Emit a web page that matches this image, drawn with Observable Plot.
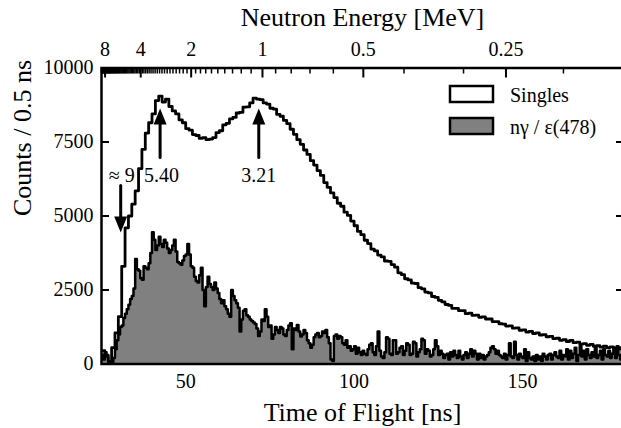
<!DOCTYPE html>
<html><head><meta charset="utf-8">
<script src="https://cdn.jsdelivr.net/npm/d3@7"></script>
<script src="https://cdn.jsdelivr.net/npm/@observablehq/plot@0.6"></script>
<style>body{margin:0;background:#fff} #chart{width:621px;height:428px;overflow:hidden}</style>
</head><body><div id="chart"></div>
<script>
// ---- data ----
const singlesStart = 25;   // ns, first bin edge
const singlesBin = 1;      // ns
const singles = [
  450,300,80,550,1050,1600,3300,4600,5000,5400,        // 25-34
  5850,6600,7250,7800,8150,8450,8900,9050,8850,8950,   // 35-44
  8700,8550,8450,8250,8150,7950,7900,7750,7720,7620,   // 45-54
  7650,7580,7600,7650,7820,7880,8080,8130,8280,8330,   // 55-64
  8480,8500,8680,8690,8820,8980,8950,8930,8820,8780,   // 65-74
  8640,8610,8430,8370,8230,8120,7930,7760,7580,7420,   // 75-84
  7230,7080,6870,6720,6530,6370,6130,5970,5780,5620,   // 85-94
  5430,5330,5130,5020,4830,4670,4480,4370,4180,4070,   // 95-104
  3880,3820,3680,3620,3480,3470,3360,3270,3080,3020,   // 105-114
  2880,2840,2730,2720,2580,2540,2430,2400,2280,2250,   // 115-124
  2150,2100,2010,1980,1880,1880,1800,1800,1700,1720,   // 125-134
  1640,1650,1580,1590,1520,1520,1430,1430,1360,1350,   // 135-144
  1280,1290,1210,1220,1140,1150,1080,1100,1030,1050,   // 145-154
  980,990,920,930,860,870,800,820,760,800,             // 155-164
  720,740,670,690,630,660,600,620,570,600,             // 165-174
  550,580,520,550,500                                  // 175-179
];
const ngStart = 25;   // ns
const ngBin = 0.5;    // ns
const ngamma = [
  300,150,400,250,100,0,50,200,500,800,
  1000,1250,1300,1550,1700,1850,2000,2200,2300,2550,
  3550,3200,3150,2900,2850,3300,3250,3200,3400,3750,
  4450,4200,3850,4000,4300,4050,3950,4200,4100,3900,
  3750,3850,4000,4200,3800,3450,3400,3350,3500,3650,
  3700,4050,3700,3300,3250,2950,2800,2750,3000,3250,
  2500,1950,2600,2950,2700,2600,2500,2750,2550,2400,
  2200,2050,2150,1950,1850,1700,1600,2500,2300,2150,
  2050,1900,1100,1500,1800,1850,1650,1600,1500,1450,
  1400,1350,1200,950,1100,1500,1450,1850,1600,1250,
  1300,850,1000,1250,1150,1050,1250,1200,1000,950,
  1150,1300,1380,500,1200,1150,1320,1100,930,1000,
  1150,1050,800,700,550,650,900,1000,1050,900,
  950,1100,1050,1150,900,700,150,100,950,1000,
  850,950,900,700,650,800,550,600,450,500,
  600,350,550,400,300,450,350,300,500,650,
  700,400,300,600,1100,450,250,200,400,900,
  850,350,300,800,800,350,400,550,600,300,
  450,700,650,300,350,750,700,250,400,500,
  850,800,350,500,450,250,300,500,800,600,
  300,450,350,200,300,350,150,400,250,450,
  300,200,450,250,150,300,400,200,350,500,
  250,450,350,150,350,200,300,150,250,300,
  400,550,600,500,350,450,300,250,200,350,
  150,300,700,250,200,750,300,150,350,250,
  200,500,100,400,200,150,250,100,300,150,
  250,100,350,250,150,300,350,150,300,400,
  250,200,450,150,300,250,500,150,450,200,
  350,550,100,300,600,250,450,150,500,300,
  200,400,250,550,200,300,450,150,500,300,
  250,450,200,350,550,200,600,300,150,450
];
const seriesNames = ["Singles", "nγ / ε(478)"];
const seriesFills = ["#ffffff", "#808080"];
const xDomain = [25, 180];
const yDomain = [0, 10000];
const yTicks = [0, 2500, 5000, 7500, 10000];
const xTicks = [50, 100, 150];
const energyMajor = [8, 4, 2, 1, 0.5, 0.25];
const energyMajorLabels = ["8", "4", "2", "1", "0.5", "0.25"];
const energyMinorStep = 0.1, energyMinorMin = 0.2, energyMinorMax = 8.7;
const flightPath = 1.0;   // m : ToF[ns] = 72.3 * L / sqrt(E[MeV]) + offset
const tofOffset = 0.5;
const arrowT = [30.7, 42.4, 71.7];
const arrowFrom = [6030, 6980, 6980];
const arrowTo = [4440, 8630, 8630];
const arrowLabelT = [31.0, 42.8, 71.7];
const arrowLabelV = [6370, 6370, 6370];
const arrowLabels = ["≈ 9", "5.40", "3.21"];

// ---- derived tables ----
const tof = E => 72.3 * flightPath / Math.sqrt(E) + tofOffset;
const sBins = singles.map((v, i) => ({t: singlesStart + i * singlesBin, v}));
const sLine = [...sBins, {t: singlesStart + singles.length * singlesBin, v: singles[singles.length - 1]}];
const gBins = ngamma.map((v, i) => ({t: ngStart + i * ngBin, v}));
const gLine = [...gBins, {t: ngStart + ngamma.length * ngBin, v: ngamma[ngamma.length - 1]}];
const majorT = energyMajor.map(tof);
const labelMap = new Map(majorT.map((t, i) => [t, energyMajorLabels[i]]));
const minorE = d3.range(Math.round((energyMinorMax - energyMinorMin) / energyMinorStep) + 1)
  .map(i => +(energyMinorMin + i * energyMinorStep).toFixed(1))
  .filter(e => !energyMajor.includes(e));
const minorT = minorE.map(tof).filter(t => t >= xDomain[0] && t <= xDomain[1]);
const arrowIdx = arrowT.map((_, i) => i);
const upIdx = arrowIdx.filter(i => arrowTo[i] > arrowFrom[i]);
const downIdx = arrowIdx.filter(i => arrowTo[i] < arrowFrom[i]);

const upHead = {draw(ctx) { ctx.moveTo(0, 0); ctx.lineTo(6.5, 16); ctx.lineTo(-6.5, 16); ctx.closePath(); }};
const downHead = {draw(ctx) { ctx.moveTo(0, 0); ctx.lineTo(6.5, -16); ctx.lineTo(-6.5, -16); ctx.closePath(); }};

const font = "'Liberation Serif', 'DejaVu Serif', serif";

const chart = Plot.plot({
  width: 621, height: 428,
  marginLeft: 101, marginRight: -2, marginTop: 67.5, marginBottom: 64.5,
  style: {fontFamily: font, fontSize: "20px", color: "black", background: "white"},
  x: {domain: xDomain},
  y: {domain: yDomain},
  marks: [
    Plot.areaY(gLine, {x: "t", y: "v", curve: "step-after", fill: seriesFills[1], clip: true}),
    Plot.line(gLine, {x: "t", y: "v", curve: "step-after", stroke: "black", strokeWidth: 2.5, clip: true}),
    Plot.line(sLine, {x: "t", y: "v", curve: "step-after", stroke: "black", strokeWidth: 2.8, clip: true}),
    Plot.axisY(yTicks, {anchor: "left", tickSize: -8, tickPadding: 16, strokeWidth: 2, label: null,
      tickFormat: d => String(d), fontSize: 20, fontFamily: font}),
    Plot.axisY(yTicks, {anchor: "right", tickSize: -8, tickFormat: () => "", strokeWidth: 2, label: null}),
    Plot.axisX(xTicks, {anchor: "bottom", tickSize: 0, tickPadding: 10, label: null,
      tickFormat: d => String(d), fontSize: 20, fontFamily: font}),
    Plot.axisX(majorT, {anchor: "top", tickSize: -9, tickPadding: 21, tickFormat: d => labelMap.get(d),
      strokeWidth: 2, label: null, fontSize: 20, fontFamily: font}),
    Plot.axisX(minorT, {anchor: "top", tickSize: -5, tickFormat: () => "", strokeWidth: 1.5, label: null}),
    Plot.frame({stroke: "black", strokeWidth: 2.5}),
    Plot.arrow(arrowIdx, {x1: i => arrowT[i], x2: i => arrowT[i], y1: i => arrowFrom[i], y2: i => arrowTo[i],
      stroke: "black", strokeWidth: 3, headLength: 0, insetEnd: 10}),
    Plot.dot(upIdx, {x: i => arrowT[i], y: i => arrowTo[i], symbol: upHead, fill: "black", stroke: "none", r: 6}),
    Plot.dot(downIdx, {x: i => arrowT[i], y: i => arrowTo[i], symbol: downHead, fill: "black", stroke: "none", r: 6}),
    Plot.text(arrowIdx, {x: i => arrowLabelT[i], y: i => arrowLabelV[i], text: i => arrowLabels[i],
      fontSize: 20, fontFamily: font, fill: "black"}),
    Plot.text(["Neutron Energy [MeV]"], {text: d => d, frameAnchor: "top", dy: -50.5, fontSize: 26, fontFamily: font, lineAnchor: "middle"}),
    Plot.text(["Time of Flight [ns]"], {text: d => d, frameAnchor: "bottom", dy: 48.5, fontSize: 26, fontFamily: font, lineAnchor: "middle"}),
    Plot.text(["Counts / 0.5 ns"], {text: d => d, frameAnchor: "left", dx: -79, rotate: -90, fontSize: 26, fontFamily: font, lineAnchor: "middle"})
  ]
});

// legend inside the frame (top right)
const svg = d3.select(chart);
const lg = svg.append("g").attr("fill", "black");
seriesNames.forEach((name, i) => {
  lg.append("rect").attr("x", 450).attr("y", 86 + i * 32).attr("width", 43).attr("height", 16)
    .attr("fill", seriesFills[i]).attr("stroke", "black").attr("stroke-width", 2.5);
  lg.append("text").attr("x", 510).attr("y", 94.5 + i * 32).attr("dy", "0.35em")
    .attr("text-anchor", "start").attr("font-family", font).attr("font-size", 20)
    .style("font-family", font).text(name);
});

document.getElementById("chart").appendChild(chart);
</script>
</body></html>
